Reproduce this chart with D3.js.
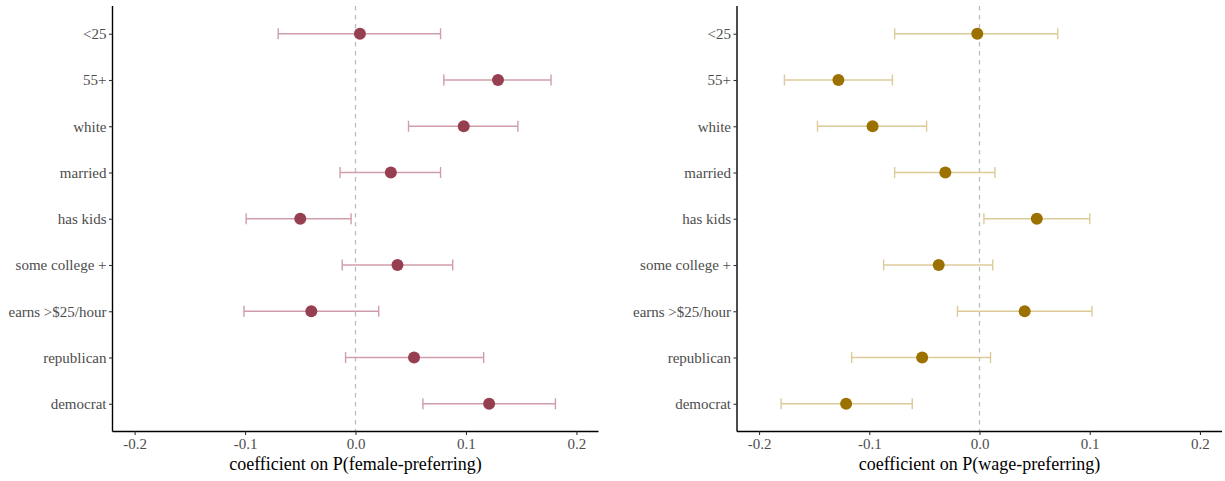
<!DOCTYPE html>
<html>
<head>
<meta charset="utf-8">
<script src="https://cdn.jsdelivr.net/npm/d3@7"></script>
<style>
  html, body { margin: 0; padding: 0; background: #fff; }
  svg { display: block; }
  svg text { font-family: "Liberation Serif", "Times New Roman", serif; }
</style>
</head>
<body>
<svg id="chart" width="1225" height="481"></svg>
<script>
const categories = ["<25", "55+", "white", "married", "has kids", "some college +", "earns >$25/hour", "republican", "democrat"];
const xTicks = [-0.2, -0.1, 0.0, 0.1, 0.2];
const tickLabels = ["-0.2", "-0.1", "0.0", "0.1", "0.2"];

const femaleEst  = [0.004, 0.129, 0.098, 0.032, -0.050, 0.038, -0.040, 0.053, 0.121];
const femaleLow  = [-0.070, 0.080, 0.048, -0.014, -0.099, -0.012, -0.101, -0.009, 0.061];
const femaleHigh = [0.077, 0.177, 0.147, 0.077, -0.004, 0.088, 0.021, 0.116, 0.181];

const wageEst  = [-0.002, -0.128, -0.097, -0.031, 0.052, -0.037, 0.041, -0.052, -0.121];
const wageLow  = [-0.077, -0.177, -0.147, -0.077, 0.004, -0.087, -0.020, -0.116, -0.180];
const wageHigh = [0.071, -0.079, -0.048, 0.014, 0.100, 0.012, 0.102, 0.010, -0.061];

const panels = [
  { title: "coefficient on P(female-preferring)", est: femaleEst, low: femaleLow, high: femaleHigh,
    left: 112.5, right: 598.5, point: "#963f50", bar: "#cf9eaa" },
  { title: "coefficient on P(wage-preferring)", est: wageEst, low: wageLow, high: wageHigh,
    left: 737, right: 1222, point: "#9b7100", bar: "#dccb98" }
];

const svg = d3.select("#chart");
const plotTop = 6, plotBottom = 431.5;
const font = "Liberation Serif, Times New Roman, serif";

panels.forEach(p => {
  const x = d3.scaleLinear().domain([-0.22, 0.22]).range([p.left, p.right]);
  const y = d3.scalePoint().domain(categories).range([plotTop, plotBottom]).padding(0.6);
  const g = svg.append("g");

  // dashed zero line
  g.append("line")
    .attr("x1", x(0)).attr("x2", x(0))
    .attr("y1", plotTop).attr("y2", plotBottom)
    .attr("stroke", "#bdbdbd").attr("stroke-width", 1.3)
    .attr("stroke-dasharray", "4.5,4.5");

  const rows = categories.map((c, i) => ({ c, est: p.est[i], lo: p.low[i], hi: p.high[i] }));
  const capH = 5.5;
  const eb = g.append("g").attr("stroke", p.bar).attr("stroke-width", 1.4).attr("fill", "none");
  rows.forEach(d => {
    eb.append("line").attr("x1", x(d.lo)).attr("x2", x(d.hi)).attr("y1", y(d.c)).attr("y2", y(d.c));
    eb.append("line").attr("x1", x(d.lo)).attr("x2", x(d.lo)).attr("y1", y(d.c) - capH).attr("y2", y(d.c) + capH);
    eb.append("line").attr("x1", x(d.hi)).attr("x2", x(d.hi)).attr("y1", y(d.c) - capH).attr("y2", y(d.c) + capH);
  });
  g.selectAll("circle.pt").data(rows).join("circle")
    .attr("class", "pt")
    .attr("cx", d => x(d.est)).attr("cy", d => y(d.c)).attr("r", 6)
    .attr("fill", p.point);

  // x axis
  const xAxis = d3.axisBottom(x).tickValues(xTicks).tickFormat((d, i) => tickLabels[i]).tickSize(3.5).tickPadding(3);
  const gx = g.append("g").attr("transform", `translate(0,${plotBottom})`).call(xAxis)
    .attr("font-family", font).attr("font-size", 15);
  gx.select(".domain").attr("stroke", "#000").attr("stroke-width", 1.4).attr("d", `M${p.left},0H${p.right}`);
  gx.selectAll(".tick line").attr("stroke", "#333").attr("stroke-width", 1.1);
  gx.selectAll(".tick text").attr("fill", "#4d4d4d");

  // y axis
  const yAxis = d3.axisLeft(y).tickSize(3.5).tickPadding(2.5);
  const gy = g.append("g").attr("transform", `translate(${p.left},0)`).call(yAxis)
    .attr("font-family", font).attr("font-size", 15);
  gy.select(".domain").attr("stroke", "#000").attr("stroke-width", 1.4).attr("d", `M0,${plotTop}V${plotBottom}`);
  gy.selectAll(".tick line").attr("stroke", "#333").attr("stroke-width", 1.1);
  gy.selectAll(".tick text").attr("fill", "#4d4d4d");

  // axis title
  g.append("text")
    .attr("x", (p.left + p.right) / 2).attr("y", 470)
    .attr("text-anchor", "middle")
    .attr("font-family", font).attr("font-size", 18).attr("fill", "#000")
    .text(p.title);
});
</script>
</body>
</html>
